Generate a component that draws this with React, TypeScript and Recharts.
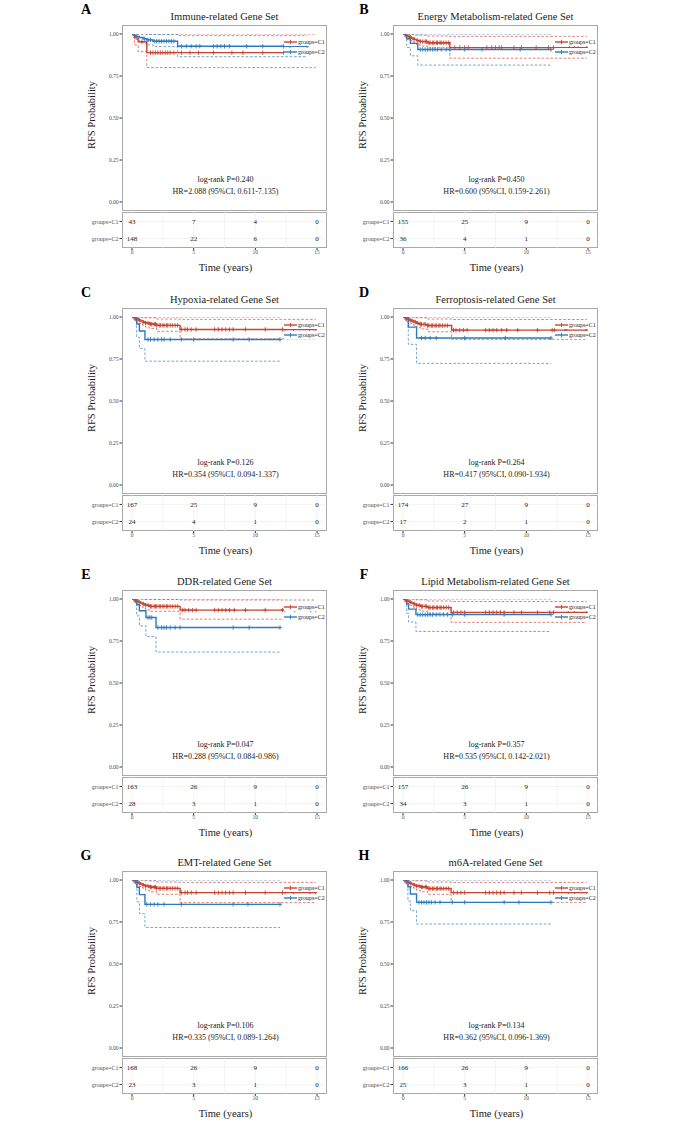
import React from "react";
import { ComposedChart, Line, Scatter, XAxis, YAxis, ReferenceLine } from "recharts";

type Pt = [number, number];

const FONT = '"Liberation Serif", "Times New Roman", serif';
const RED = "#C9432F";
const BLUE = "#2C7BBF";
const GROUPS = ["groups=C1", "groups=C2"];
const TIME_TICKS = [0, 5, 10, 15];
const SURV_TICKS = [0, 0.25, 0.5, 0.75, 1];
const RISK_GRID = [0, 2.5, 5, 7.5, 10, 12.5, 15];

const LETTERS = ["A", "B", "C", "D", "E", "F", "G", "H"];
const TITLES = [
  "Immune-related Gene Set",
  "Energy Metabolism-related Gene Set",
  "Hypoxia-related Gene Set",
  "Ferroptosis-related Gene Set",
  "DDR-related Gene Set",
  "Lipid Metabolism-related Gene Set",
  "EMT-related Gene Set",
  "m6A-related Gene Set",
];
const LOGRANK_P = ["0.240", "0.450", "0.126", "0.264", "0.047", "0.357", "0.106", "0.134"];
const HR_TEXT = [
  "2.088 (95%CI, 0.611-7.135)",
  "0.600 (95%CI, 0.159-2.261)",
  "0.354 (95%CI, 0.094-1.337)",
  "0.417 (95%CI, 0.090-1.934)",
  "0.288 (95%CI, 0.084-0.986)",
  "0.535 (95%CI, 0.142-2.021)",
  "0.335 (95%CI, 0.089-1.264)",
  "0.362 (95%CI, 0.096-1.369)",
];
const RISK_C1 = [[43, 7, 4, 0], [155, 25, 9, 0], [167, 25, 9, 0], [174, 27, 9, 0], [163, 26, 9, 0], [157, 26, 9, 0], [168, 26, 9, 0], [166, 26, 9, 0]];
const RISK_C2 = [[148, 22, 6, 0], [36, 4, 1, 0], [24, 4, 1, 0], [17, 2, 1, 0], [28, 3, 1, 0], [34, 3, 1, 0], [23, 3, 1, 0], [25, 3, 1, 0]];

// ---- survival curves [time, prob] ----
const A_C1: Pt[] = [[0, 1], [0.2, 0.977], [0.5, 0.954], [1.2, 0.889], [14.9, 0.889]];
const A_C1_UP: Pt[] = [[0, 1], [14.9, 1]];
const A_C1_LO: Pt[] = [[0, 1], [0.2, 0.935], [0.5, 0.895], [1.2, 0.8], [14.9, 0.8]];
const A_C1_CENS = [0.8, 1.5, 1.7, 1.9, 2.1, 2.3, 2.5, 2.7, 2.9, 3.1, 3.4, 4.0, 4.7, 5.4, 6.6, 8.1, 9.0, 10.6, 12.3, 13.2, 14.9];
const A_C2: Pt[] = [[0, 1], [0.1, 0.993], [0.3, 0.986], [0.6, 0.979], [0.9, 0.972], [1.2, 0.965], [1.7, 0.957], [3.7, 0.927], [14.2, 0.927]];
const A_C2_UP: Pt[] = [[0, 1], [1.2, 0.997], [3.7, 0.99], [14.2, 0.99]];
const A_C2_LO: Pt[] = [[0, 1], [0.1, 0.98], [0.3, 0.967], [0.6, 0.955], [0.9, 0.945], [1.2, 0.935], [1.7, 0.925], [3.7, 0.865], [14.2, 0.865]];
const A_C2_CENS = [0.4, 1.0, 1.3, 1.5, 1.8, 2.0, 2.2, 2.4, 2.6, 2.8, 3.0, 3.2, 3.4, 4.0, 4.4, 4.8, 5.2, 5.5, 6.6, 6.9, 7.2, 7.5, 7.9, 9.3, 10.6, 12.3, 12.8, 14.2];

const B_C1: Pt[] = [[0, 1], [0.15, 0.994], [0.3, 0.988], [0.5, 0.981], [0.7, 0.975], [0.9, 0.968], [1.1, 0.961], [1.4, 0.955], [2.0, 0.948], [3.8, 0.919], [14.9, 0.919]];
const B_C1_UP: Pt[] = [[0, 1], [0.5, 0.998], [1.0, 0.993], [2.0, 0.988], [3.8, 0.986], [14.9, 0.986]];
const B_C1_LO: Pt[] = [[0, 1], [0.15, 0.982], [0.3, 0.971], [0.5, 0.962], [0.7, 0.953], [0.9, 0.945], [1.1, 0.936], [1.4, 0.928], [2.0, 0.918], [3.8, 0.856], [14.9, 0.856]];
const B_C1_CENS = [0.3, 0.6, 0.9, 1.2, 1.4, 1.6, 1.8, 1.9, 2.1, 2.2, 2.4, 2.5, 2.7, 2.8, 3.0, 3.1, 3.3, 3.5, 3.7, 4.2, 4.6, 5.0, 5.3, 6.8, 7.2, 7.5, 7.8, 8.0, 9.0, 9.6, 10.8, 11.8, 12.2, 13.5, 13.9, 14.2, 14.9];
const B_C2: Pt[] = [[0, 1], [0.3, 0.972], [0.6, 0.944], [1.2, 0.908], [12.0, 0.908]];
const B_C2_UP: Pt[] = [[0, 1], [12.0, 1]];
const B_C2_LO: Pt[] = [[0, 1], [0.3, 0.92], [0.6, 0.87], [1.2, 0.815], [12.0, 0.815]];
const B_C2_CENS = [0.2, 1.4, 1.6, 1.8, 2.0, 2.2, 2.4, 2.6, 2.8, 3.1, 3.5, 3.8, 5.0, 6.4, 9.5, 12.0];

const C_C1: Pt[] = [[0, 1], [0.15, 0.994], [0.3, 0.988], [0.5, 0.982], [0.7, 0.976], [0.9, 0.97], [1.1, 0.964], [1.4, 0.958], [2.0, 0.95], [3.9, 0.926], [14.9, 0.926]];
const C_C1_UP: Pt[] = [[0, 1], [1.0, 0.995], [2.0, 0.988], [3.9, 0.986], [14.9, 0.986]];
const C_C1_LO: Pt[] = [[0, 1], [0.15, 0.982], [0.3, 0.972], [0.5, 0.963], [0.7, 0.955], [0.9, 0.947], [1.1, 0.94], [1.4, 0.932], [2.0, 0.915], [3.9, 0.87], [14.9, 0.87]];
const C_C1_CENS = [0.3, 0.6, 0.9, 1.1, 1.3, 1.5, 1.6, 1.8, 1.9, 2.0, 2.2, 2.3, 2.5, 2.6, 2.8, 2.9, 3.1, 3.3, 3.5, 3.7, 4.0, 4.3, 4.5, 4.8, 5.2, 6.7, 7.0, 7.3, 7.6, 7.9, 8.2, 9.2, 10.8, 12.2, 12.4, 13.1, 14.4, 14.9];
const C_C2: Pt[] = [[0, 1], [0.38, 0.958], [0.6, 0.917], [1.05, 0.866], [12.0, 0.866]];
const C_C2_UP: Pt[] = [[0, 1], [12.0, 1]];
const C_C2_LO: Pt[] = [[0, 1], [0.38, 0.88], [0.6, 0.812], [1.05, 0.737], [12.0, 0.737]];
const C_C2_CENS = [1.3, 1.5, 1.8, 2.1, 2.4, 2.6, 3.1, 4.0, 5.0, 8.2, 9.5, 12.0];

const D_C1: Pt[] = [[0, 1], [0.15, 0.994], [0.3, 0.988], [0.5, 0.982], [0.7, 0.976], [0.9, 0.97], [1.1, 0.963], [1.4, 0.956], [2.0, 0.949], [3.95, 0.922], [14.9, 0.922]];
const D_C1_UP: Pt[] = [[0, 1], [1.0, 0.995], [2.0, 0.988], [3.95, 0.985], [14.9, 0.985]];
const D_C1_LO: Pt[] = [[0, 1], [0.15, 0.982], [0.3, 0.972], [0.5, 0.963], [0.7, 0.955], [0.9, 0.946], [1.1, 0.938], [1.4, 0.929], [2.0, 0.912], [3.95, 0.867], [14.9, 0.867]];
const D_C1_CENS = [0.3, 0.6, 0.8, 1.0, 1.2, 1.4, 1.5, 1.7, 1.8, 2.0, 2.1, 2.3, 2.4, 2.6, 2.7, 2.9, 3.0, 3.2, 3.4, 3.6, 4.1, 4.3, 4.6, 4.9, 5.2, 6.7, 7.0, 7.3, 7.6, 8.0, 8.4, 9.3, 10.9, 12.1, 12.3, 13.2, 14.9];
const D_C2: Pt[] = [[0, 1], [0.43, 0.94], [1.1, 0.875], [12.0, 0.875]];
const D_C2_UP: Pt[] = [[0, 1], [12.0, 1]];
const D_C2_LO: Pt[] = [[0, 1], [0.43, 0.837], [1.1, 0.724], [12.0, 0.724]];
const D_C2_CENS = [0.2, 1.5, 1.8, 2.2, 2.7, 5.0, 8.3, 12.0];

const E_C1: Pt[] = [[0, 1], [0.15, 0.994], [0.3, 0.988], [0.5, 0.982], [0.7, 0.976], [0.9, 0.97], [1.1, 0.963], [1.4, 0.956], [3.9, 0.934], [14.9, 0.934]];
const E_C1_UP: Pt[] = [[0, 1], [1.0, 0.997], [3.9, 0.994], [14.9, 0.994]];
const E_C1_LO: Pt[] = [[0, 1], [0.15, 0.982], [0.3, 0.972], [0.5, 0.962], [0.7, 0.953], [0.9, 0.945], [1.1, 0.936], [1.4, 0.927], [3.9, 0.88], [14.9, 0.88]];
const E_C1_CENS = [0.3, 0.6, 0.9, 1.1, 1.3, 1.5, 1.6, 1.8, 1.9, 2.0, 2.2, 2.3, 2.5, 2.6, 2.8, 2.9, 3.1, 3.3, 3.5, 3.7, 4.1, 4.3, 4.6, 4.9, 5.2, 6.7, 7.0, 7.3, 7.6, 7.9, 8.3, 9.2, 10.8, 12.2, 12.4, 13.2, 14.5, 14.9];
const E_C2: Pt[] = [[0, 1], [0.38, 0.966], [0.6, 0.93], [1.13, 0.89], [1.95, 0.83], [12.0, 0.83]];
const E_C2_UP: Pt[] = [[0, 1], [12.0, 1]];
const E_C2_LO: Pt[] = [[0, 1], [0.38, 0.9], [0.6, 0.84], [1.13, 0.776], [1.95, 0.684], [12.0, 0.684]];
const E_C2_CENS = [1.3, 1.45, 1.6, 2.1, 2.4, 2.6, 2.8, 3.1, 3.5, 3.9, 8.2, 9.5, 12.0];

const F_C1: Pt[] = [[0, 1], [0.15, 0.994], [0.3, 0.988], [0.5, 0.982], [0.7, 0.976], [0.9, 0.97], [1.1, 0.963], [1.4, 0.956], [2.0, 0.949], [3.9, 0.92], [14.9, 0.92]];
const F_C1_UP: Pt[] = [[0, 1], [1.0, 0.995], [2.0, 0.988], [3.9, 0.985], [14.9, 0.985]];
const F_C1_LO: Pt[] = [[0, 1], [0.15, 0.982], [0.3, 0.972], [0.5, 0.963], [0.7, 0.954], [0.9, 0.946], [1.1, 0.937], [1.4, 0.928], [2.0, 0.915], [3.9, 0.861], [14.9, 0.861]];
const F_C1_CENS = [0.3, 0.6, 0.9, 1.1, 1.3, 1.5, 1.6, 1.8, 1.9, 2.1, 2.2, 2.4, 2.5, 2.7, 2.8, 3.0, 3.1, 3.3, 3.5, 3.7, 4.1, 4.4, 4.7, 5.0, 6.7, 7.0, 7.3, 7.6, 7.9, 8.2, 9.0, 9.6, 10.9, 11.9, 12.2, 13.4, 13.9, 14.9];
const F_C2: Pt[] = [[0, 1], [0.3, 0.97], [0.45, 0.94], [1.05, 0.907], [12.0, 0.907]];
const F_C2_UP: Pt[] = [[0, 1], [12.0, 1]];
const F_C2_LO: Pt[] = [[0, 1], [0.3, 0.915], [0.45, 0.863], [1.05, 0.807], [12.0, 0.807]];
const F_C2_CENS = [0.2, 1.2, 1.4, 1.6, 1.8, 2.0, 2.2, 2.4, 2.7, 3.0, 3.3, 3.6, 4.0, 5.0, 8.2, 12.0];

const G_C1: Pt[] = [[0, 1], [0.15, 0.994], [0.3, 0.988], [0.5, 0.982], [0.7, 0.976], [0.9, 0.97], [1.1, 0.964], [1.4, 0.958], [2.0, 0.95], [3.9, 0.925], [14.9, 0.925]];
const G_C1_UP: Pt[] = [[0, 1], [1.0, 0.995], [2.0, 0.988], [3.9, 0.986], [14.9, 0.986]];
const G_C1_LO: Pt[] = [[0, 1], [0.15, 0.982], [0.3, 0.972], [0.5, 0.963], [0.7, 0.955], [0.9, 0.947], [1.1, 0.939], [1.4, 0.93], [2.0, 0.915], [3.9, 0.865], [14.9, 0.865]];
const G_C1_CENS = [0.3, 0.6, 0.9, 1.1, 1.3, 1.5, 1.6, 1.8, 1.9, 2.0, 2.2, 2.3, 2.5, 2.6, 2.8, 2.9, 3.1, 3.3, 3.5, 3.7, 4.0, 4.3, 4.5, 4.8, 5.2, 6.7, 7.0, 7.3, 7.6, 7.9, 8.2, 9.2, 10.8, 12.2, 12.4, 13.1, 14.4, 14.9];
const G_C2: Pt[] = [[0, 1], [0.4, 0.957], [0.6, 0.913], [1.05, 0.855], [12.0, 0.855]];
const G_C2_UP: Pt[] = [[0, 1], [12.0, 1]];
const G_C2_LO: Pt[] = [[0, 1], [0.4, 0.87], [0.6, 0.8], [1.05, 0.717], [12.0, 0.717]];
const G_C2_CENS = [1.2, 1.5, 1.8, 2.1, 2.6, 4.0, 8.2, 9.4, 12.0];

const H_C1: Pt[] = [[0, 1], [0.15, 0.994], [0.3, 0.988], [0.5, 0.982], [0.7, 0.976], [0.9, 0.97], [1.1, 0.964], [1.4, 0.958], [2.0, 0.949], [3.9, 0.925], [14.9, 0.925]];
const H_C1_UP: Pt[] = [[0, 1], [1.0, 0.995], [2.0, 0.988], [3.9, 0.986], [14.9, 0.986]];
const H_C1_LO: Pt[] = [[0, 1], [0.15, 0.982], [0.3, 0.972], [0.5, 0.963], [0.7, 0.955], [0.9, 0.947], [1.1, 0.939], [1.4, 0.93], [2.0, 0.915], [3.9, 0.867], [14.9, 0.867]];
const H_C1_CENS = [0.3, 0.6, 0.9, 1.1, 1.3, 1.5, 1.6, 1.8, 1.9, 2.1, 2.2, 2.4, 2.5, 2.7, 2.8, 3.0, 3.1, 3.3, 3.5, 3.7, 4.1, 4.4, 4.7, 5.0, 6.7, 7.0, 7.3, 7.6, 7.9, 8.2, 9.0, 9.6, 10.9, 11.9, 12.2, 13.4, 13.9, 14.9];
const H_C2: Pt[] = [[0, 1], [0.4, 0.96], [0.6, 0.917], [1.1, 0.867], [12.0, 0.867]];
const H_C2_UP: Pt[] = [[0, 1], [12.0, 1]];
const H_C2_LO: Pt[] = [[0, 1], [0.4, 0.875], [0.6, 0.817], [1.1, 0.738], [12.0, 0.738]];
const H_C2_CENS = [0.2, 1.3, 1.5, 1.7, 1.9, 2.1, 2.3, 2.6, 3.0, 4.0, 5.0, 8.2, 9.4, 12.0];

const C1_CURVES = [A_C1, B_C1, C_C1, D_C1, E_C1, F_C1, G_C1, H_C1];
const C1_UP = [A_C1_UP, B_C1_UP, C_C1_UP, D_C1_UP, E_C1_UP, F_C1_UP, G_C1_UP, H_C1_UP];
const C1_LO = [A_C1_LO, B_C1_LO, C_C1_LO, D_C1_LO, E_C1_LO, F_C1_LO, G_C1_LO, H_C1_LO];
const C1_CENS = [A_C1_CENS, B_C1_CENS, C_C1_CENS, D_C1_CENS, E_C1_CENS, F_C1_CENS, G_C1_CENS, H_C1_CENS];
const C2_CURVES = [A_C2, B_C2, C_C2, D_C2, E_C2, F_C2, G_C2, H_C2];
const C2_UP = [A_C2_UP, B_C2_UP, C_C2_UP, D_C2_UP, E_C2_UP, F_C2_UP, G_C2_UP, H_C2_UP];
const C2_LO = [A_C2_LO, B_C2_LO, C_C2_LO, D_C2_LO, E_C2_LO, F_C2_LO, G_C2_LO, H_C2_LO];
const C2_CENS = [A_C2_CENS, B_C2_CENS, C_C2_CENS, D_C2_CENS, E_C2_CENS, F_C2_CENS, G_C2_CENS, H_C2_CENS];

// layout
const BOX_LEFT = [122, 393];
const ROW_TOP = [25, 308, 590, 871];
const LETTER_X = [79, 357];
const BOX_W = 205;
const BOX_H = 186;
const AXIS_W = 30;
const RISK_TOP = 187;
const RISK_H = 36;
const RISK_AXIS_W = 42;
const BORDER = "#A9A9A9";
const TEXT = "#222";

const rows = (c: Pt[]) => c.map(([t, s]) => ({ t, s }));
const stepAt = (c: Pt[], t: number) => {
  let v = c[0][1];
  for (const [x, y] of c) if (x <= t) v = y;
  return v;
};

const plus = (color: string) => (props: any) => {
  const { cx, cy } = props;
  if (cx == null || cy == null) return <g />;
  return <path d={`M${cx - 2},${cy}h4M${cx},${cy - 2.2}v4.4`} stroke={color} strokeWidth={0.9} fill="none" />;
};

const riskNumber = (props: any) => {
  const { cx, cy, payload } = props;
  if (cx == null || cy == null) return <g />;
  return (
    <text x={cx} y={cy} dy="0.35em" textAnchor="middle" fontSize={7} fill={TEXT} stroke="none" fontFamily={FONT}>
      {payload.n}
    </text>
  );
};

function Label({ x, y, size, text, bold, rotate }: any) {
  return (
    <div
      style={{
        position: "absolute",
        left: x,
        top: y,
        transform: `translate(-50%, -50%)${rotate ? " rotate(-90deg)" : ""}`,
        fontSize: size,
        lineHeight: 1,
        whiteSpace: "nowrap",
        fontWeight: bold ? "bold" : "normal",
        color: bold ? "#000" : TEXT,
        fontFamily: FONT,
      }}
    >
      {text}
    </div>
  );
}

function ciLine(data: Pt[], color: string) {
  return (
    <Line
      data={rows(data)}
      dataKey="s"
      type="stepAfter"
      stroke={color}
      strokeWidth={0.8}
      strokeOpacity={0.85}
      strokeDasharray="2.6 1.8"
      dot={false}
      activeDot={false}
      isAnimationActive={false}
    />
  );
}

function KMPanel({ i }: { i: number }) {
  const col = i % 2;
  const left = BOX_LEFT[col];
  const top = ROW_TOP[Math.floor(i / 2)];
  const cx = left + BOX_W / 2;
  const c1 = C1_CURVES[i];
  const c2 = C2_CURVES[i];
  const cens1 = C1_CENS[i].map((t) => ({ t, s: stepAt(c1, t) }));
  const cens2 = C2_CENS[i].map((t) => ({ t, s: stepAt(c2, t) }));
  const risk = [
    ...TIME_TICKS.map((t, k) => ({ t, g: 2, n: RISK_C1[i][k] })),
    ...TIME_TICKS.map((t, k) => ({ t, g: 1, n: RISK_C2[i][k] })),
  ];
  const legendColors = [RED, BLUE];

  return (
    <>
      <Label x={LETTER_X[col] + 7} y={top - 15} size={14} text={LETTERS[i]} bold />
      <Label x={cx} y={top - 8} size={10.5} text={TITLES[i]} />
      <Label x={left - 30} y={top + 90} size={10.5} text="RFS Probability" rotate />

      <div style={{ position: "absolute", left, top, width: BOX_W, height: BOX_H, border: `1px solid ${BORDER}`, boxSizing: "border-box" }} />
      <div style={{ position: "absolute", left: left - AXIS_W, top }}>
        <ComposedChart width={BOX_W + AXIS_W} height={BOX_H + 3} margin={{ top: 0, right: 0, bottom: 0, left: 0 }}>
          <XAxis
            type="number"
            dataKey="t"
            domain={[0, 15]}
            ticks={TIME_TICKS}
            padding={{ left: 10, right: 10 }}
            height={3}
            tick={false}
            tickSize={2}
            axisLine={false}
            tickLine={{ stroke: "#333" }}
            allowDataOverflow
          />
          <YAxis
            type="number"
            domain={[0, 1]}
            ticks={SURV_TICKS}
            width={AXIS_W}
            padding={{ top: 9, bottom: 9 }}
            tickSize={2.5}
            tickMargin={1}
            axisLine={false}
            tickLine={{ stroke: "#333" }}
            tick={{ fontSize: 5.5, fill: "#4d4d4d", fontFamily: FONT }}
            tickFormatter={(v: number) => v.toFixed(2)}
            allowDataOverflow
          />
          {ciLine(C1_UP[i], RED)}
          {ciLine(C1_LO[i], RED)}
          {ciLine(C2_UP[i], BLUE)}
          {ciLine(C2_LO[i], BLUE)}
          <Line data={rows(c1)} dataKey="s" type="stepAfter" stroke={RED} strokeWidth={1.4} dot={false} activeDot={false} isAnimationActive={false} />
          <Line data={rows(c2)} dataKey="s" type="stepAfter" stroke={BLUE} strokeWidth={1.4} dot={false} activeDot={false} isAnimationActive={false} />
          <Scatter data={cens1} dataKey="s" shape={plus(RED)} isAnimationActive={false} />
          <Scatter data={cens2} dataKey="s" shape={plus(BLUE)} isAnimationActive={false} />
        </ComposedChart>
      </div>

      {GROUPS.map((g, k) => (
        <div
          key={g}
          style={{
            position: "absolute",
            left: left + BOX_W - 43,
            top: top + 13 + k * 10,
            width: 41,
            height: 8,
            background: "#fff",
            display: "flex",
            alignItems: "center",
          }}
        >
          <svg width={13} height={8}>
            <line x1={0} y1={4} x2={13} y2={4} stroke={legendColors[k]} strokeWidth={1.4} />
            <line x1={6.5} y1={1.8} x2={6.5} y2={6.2} stroke={legendColors[k]} strokeWidth={0.9} />
          </svg>
          <span style={{ fontSize: 6, fontFamily: FONT, color: TEXT, marginLeft: 1, lineHeight: 1 }}>{g}</span>
        </div>
      ))}

      <Label x={cx + 1} y={top + 155} size={8} text={`log-rank P=${LOGRANK_P[i]}`} />
      <Label x={cx + 1} y={top + 167} size={8} text={`HR=${HR_TEXT[i]}`} />

      <div style={{ position: "absolute", left, top: top + RISK_TOP, width: BOX_W, height: RISK_H, border: `1px solid ${BORDER}`, boxSizing: "border-box" }} />
      <div style={{ position: "absolute", left: left - RISK_AXIS_W, top: top + RISK_TOP }}>
        <ComposedChart width={BOX_W + RISK_AXIS_W} height={RISK_H + 12} margin={{ top: 0, right: 0, bottom: 0, left: 0 }}>
          <XAxis
            type="number"
            dataKey="t"
            domain={[0, 15]}
            ticks={TIME_TICKS}
            padding={{ left: 10, right: 10 }}
            height={12}
            tickSize={2}
            tickMargin={0}
            axisLine={false}
            tickLine={{ stroke: "#333" }}
            tick={{ fontSize: 5.5, fill: "#4d4d4d", fontFamily: FONT }}
          />
          <YAxis
            type="number"
            domain={[0.45, 2.55]}
            ticks={[1, 2]}
            width={RISK_AXIS_W}
            tickSize={2.5}
            tickMargin={1}
            axisLine={false}
            tickLine={{ stroke: "#333" }}
            tick={{ fontSize: 6, fill: "#4d4d4d", fontFamily: FONT }}
            tickFormatter={(v: number) => (v === 2 ? GROUPS[0] : GROUPS[1])}
          />
          {RISK_GRID.map((t) => (
            <ReferenceLine key={`v${t}`} x={t} stroke="#ebebeb" strokeWidth={0.6} />
          ))}
          <ReferenceLine y={1} stroke="#ebebeb" strokeWidth={0.6} />
          <ReferenceLine y={2} stroke="#ebebeb" strokeWidth={0.6} />
          <Scatter data={risk} dataKey="g" fill={TEXT} shape={riskNumber} isAnimationActive={false} />
        </ComposedChart>
      </div>

      <Label x={cx + 1} y={top + 243} size={10.5} text="Time (years)" />
    </>
  );
}

export default function App() {
  return (
    <div style={{ position: "absolute", left: 0, top: 0, width: 685, height: 1126, background: "#fff", overflow: "hidden" }}>
      {LETTERS.map((_, i) => (
        <KMPanel key={i} i={i} />
      ))}
    </div>
  );
}
